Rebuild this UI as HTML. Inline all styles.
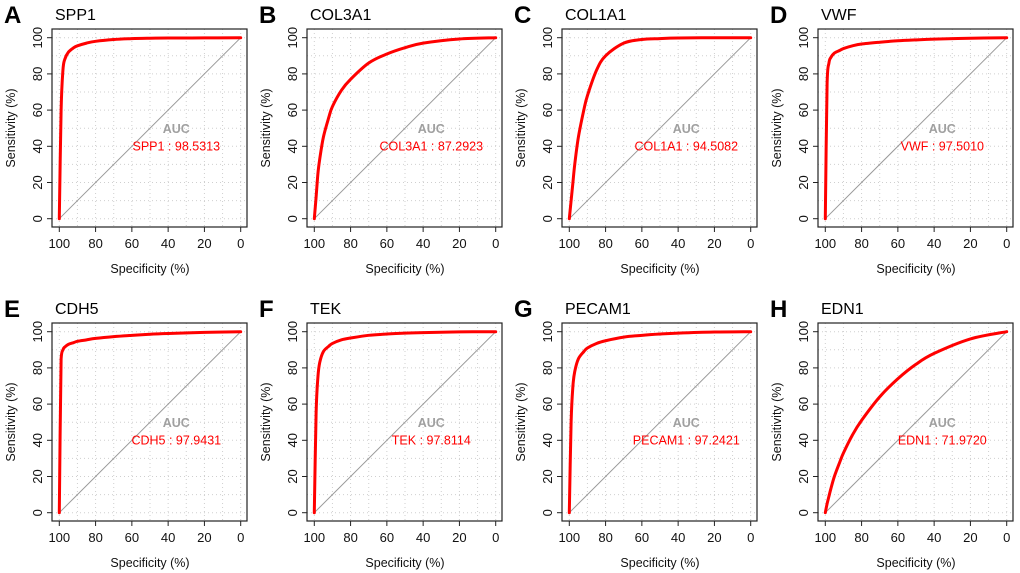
<!DOCTYPE html>
<html><head><meta charset="utf-8">
<style>
html,body{margin:0;padding:0;background:#fff;width:1020px;height:573px;overflow:hidden}
svg{display:block;font-family:"Liberation Sans",Arial,sans-serif}
</style></head>
<body>
<svg id="chart" width="1020" height="573" viewBox="0 0 1020 573"></svg>
<script>
const specificity = [100, 99, 98, 97, 95, 92, 90, 85, 80, 70, 60, 50, 40, 20, 0];
const genes = ["SPP1","COL3A1","COL1A1","VWF","CDH5","TEK","PECAM1","EDN1"];
const letters = ["A","B","C","D","E","F","G","H"];
const aucValues = ["98.5313","87.2923","94.5082","97.5010","97.9431","97.8114","97.2421","71.9720"];
const sensSPP1   = [0, 60, 82, 88, 92, 94.5, 95.5, 97, 98, 99, 99.5, 99.7, 99.8, 99.9, 100];
const sensCOL3A1 = [0, 12, 25, 33, 45, 56, 62, 71, 77, 86, 91, 94.5, 97, 99.3, 100];
const sensCOL1A1 = [0, 10, 20, 30, 45, 60, 68, 82, 90, 97, 99, 99.5, 99.8, 100, 100];
const sensVWF    = [0, 75, 86, 89, 91.5, 93, 94, 95.5, 96.5, 97.5, 98.3, 98.8, 99.2, 99.7, 100];
const sensCDH5   = [0, 85, 90, 91.5, 93, 94, 94.7, 95.5, 96.3, 97.3, 98, 98.6, 99, 99.6, 100];
const sensTEK    = [0, 55, 75, 83, 89, 92, 93.5, 95.5, 96.5, 98, 98.7, 99.2, 99.5, 99.9, 100];
const sensPECAM1 = [0, 50, 70, 78, 85, 89, 91, 93.5, 95, 97, 98, 98.7, 99.2, 99.8, 100];
const sensEDN1   = [0, 5, 9, 13, 20, 28, 33, 43, 51, 64, 74, 82, 88, 96, 100];
const tickLabels = [0, 20, 40, 60, 80, 100];

const series = [sensSPP1,sensCOL3A1,sensCOL1A1,sensVWF,sensCDH5,sensTEK,sensPECAM1,sensEDN1];
const NS="http://www.w3.org/2000/svg";
const svg=document.getElementById('chart');
function mk(tag,attrs,parent,text){const e=document.createElementNS(NS,tag);for(const k in attrs)e.setAttribute(k,attrs[k]);if(text!==undefined)e.textContent=text;parent.appendChild(e);return e;}
function smoothPath(p){
  let d='M'+p[0][0].toFixed(2)+','+p[0][1].toFixed(2);
  for(let i=0;i<p.length-1;i++){
    const a=p[Math.max(i-1,0)],b=p[i],c=p[i+1],e=p[Math.min(i+2,p.length-1)];
    let c1x=b[0]+(c[0]-a[0])/6,c1y=b[1]+(c[1]-a[1])/6;
    let c2x=c[0]-(e[0]-b[0])/6,c2y=c[1]-(e[1]-b[1])/6;
    // keep monotone: clamp within segment box
    const mnx=Math.min(b[0],c[0]),mxx=Math.max(b[0],c[0]),mny=Math.min(b[1],c[1]),mxy=Math.max(b[1],c[1]);
    c1x=Math.min(Math.max(c1x,mnx),mxx);c2x=Math.min(Math.max(c2x,mnx),mxx);
    c1y=Math.min(Math.max(c1y,mny),mxy);c2y=Math.min(Math.max(c2y,mny),mxy);
    d+=` C${c1x.toFixed(2)},${c1y.toFixed(2)} ${c2x.toFixed(2)},${c2y.toFixed(2)} ${c[0].toFixed(2)},${c[1].toFixed(2)}`;
  }
  return d;
}

const colOff=[0,255,510,766], rowOff=[0,294];
genes.forEach((g,i)=>{
  const ox=colOff[i%4], oy=rowOff[Math.floor(i/4)];
  const L=52+ox, R=247+ox, T=29+oy, B=227+oy;
  const x0=59.3+ox, x1=240.7+ox, y0=218.7+oy, y1=37.7+oy;
  const sx=v=>x0+(100-v)/100*(x1-x0);
  const sy=v=>y0-v/100*(y0-y1);
  const grp=mk('g',{},svg);
  
  
  for(let v=0;v<=100;v+=10){
    const gl=mk('line',{x1:sx(v),x2:sx(v),y1:T,y2:B,stroke:'#cfcfcf','stroke-dasharray':'1,3','stroke-width':1},grp);
    
    const gh=mk('line',{x1:L,x2:R,y1:sy(v),y2:sy(v),stroke:'#cfcfcf','stroke-dasharray':'1,3','stroke-width':1},grp);
    
  }
  const diag=mk('line',{x1:sx(100),y1:sy(0),x2:sx(0),y2:sy(100),stroke:'#999','stroke-width':1},grp);
  
  const box=mk('rect',{x:L,y:T,width:R-L,height:B-T,fill:'none',stroke:'#222','stroke-width':1.2},grp);
  
  tickLabels.forEach(t=>{
    const tx=mk('line',{x1:sx(t),x2:sx(t),y1:B,y2:B+5,stroke:'#222'},grp);
    
    const lx=mk('text',{x:sx(t),y:B+21,'text-anchor':'middle','font-size':13,fill:'#111'},grp,String(t));
    
    const ty=mk('line',{x1:L-5,x2:L,y1:sy(t),y2:sy(t),stroke:'#222'},grp);
    
    const ly=mk('text',{x:L-10,y:sy(t),'text-anchor':'middle','font-size':13,fill:'#111',transform:`rotate(-90 ${L-10} ${sy(t)})`},grp,String(t));
    
  });
  const xt=mk('text',{x:(x0+x1)/2,y:B+46,'text-anchor':'middle','font-size':12.5,fill:'#111'},grp,'Specificity (%)');
  
  const yx=L-37, yc=(T+B)/2;
  const yt=mk('text',{x:yx,y:yc,'text-anchor':'middle','font-size':12.5,fill:'#111',transform:`rotate(-90 ${yx} ${yc})`},grp,'Sensitivity (%)');
  
  const lt=mk('text',{x:4+ox,y:23+oy,'font-size':24,'font-weight':'bold',fill:'#000'},grp,letters[i]);
  
  const tt=mk('text',{x:L+3,y:20+oy,'font-size':16,fill:'#000'},grp,g);
  
  const pts=specificity.map((s,k)=>[sx(s),sy(series[i][k])]);
  const curve=mk('path',{d:smoothPath(pts),fill:'none',stroke:'#ff0000','stroke-width':3,'stroke-linejoin':'round','stroke-linecap':'round'},grp);
  
  const at=mk('text',{x:sx(35.5),y:sy(50)+5,'text-anchor':'middle','font-size':12.5,'font-weight':'bold',fill:'#a0a0a0'},grp,'AUC');
  
  const av=mk('text',{x:sx(35.5),y:sy(40)+4,'text-anchor':'middle','font-size':12.5,fill:'#ff0000'},grp,g+' : '+aucValues[i]);
  
});
</script>
</body></html>
